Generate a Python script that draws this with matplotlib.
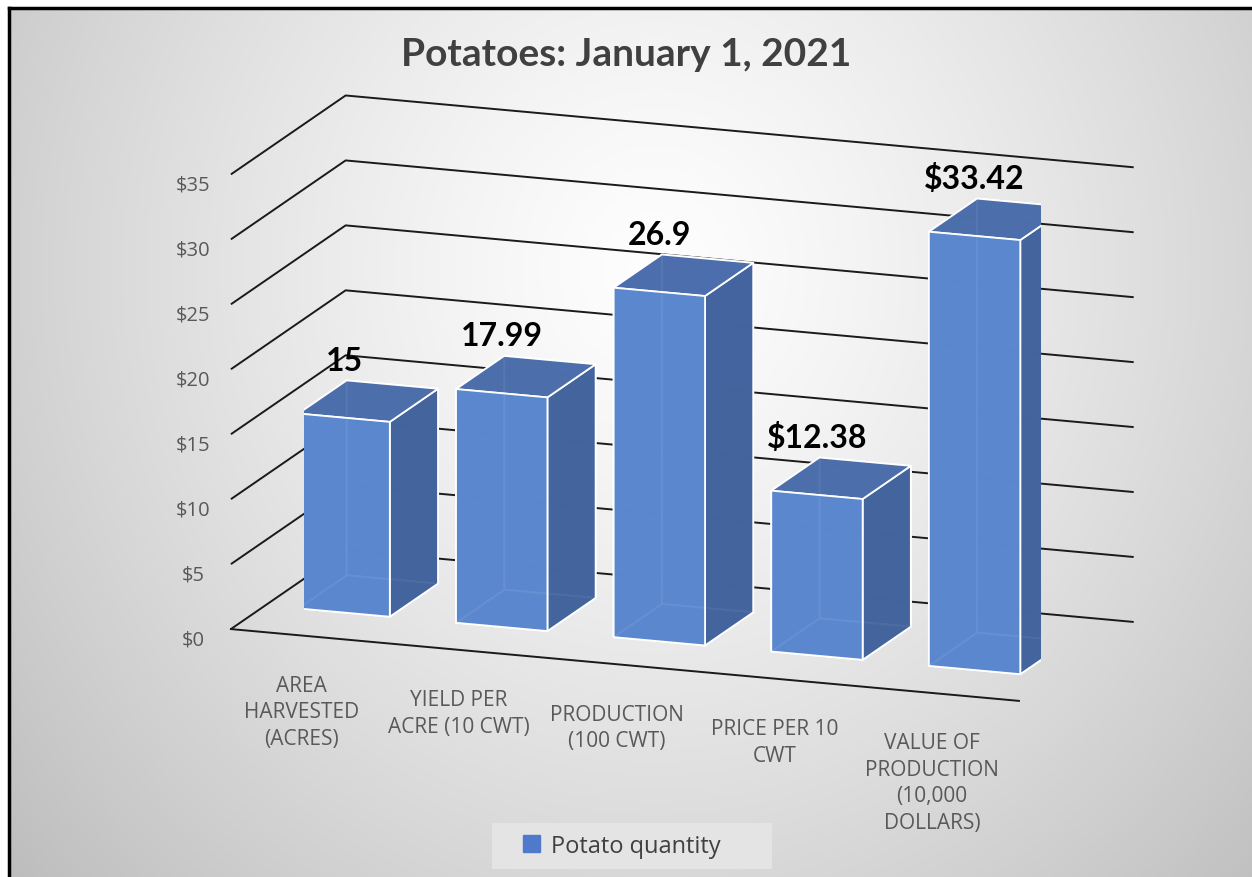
import numpy as np
import matplotlib
matplotlib.use("Agg")
import matplotlib.pyplot as plt
from matplotlib.patches import Rectangle, Patch
from mpl_toolkits.mplot3d import Axes3D  # noqa

# ---------------- data ----------------
title = "Potatoes: January 1, 2021"
categories = ["AREA\nHARVESTED\n(ACRES)", "YIELD PER\nACRE (10 CWT)", "PRODUCTION\n(100 CWT)",
              "PRICE PER 10\nCWT", "VALUE OF\nPRODUCTION\n(10,000\nDOLLARS)"]
values = [15, 17.99, 26.9, 12.38, 33.42]
value_labels = ["15", "17.99", "26.9", "$12.38", "$33.42"]
z_ticks = [0, 5, 10, 15, 20, 25, 30, 35]
z_tick_labels = ["$0", "$5", "$10", "$15", "$20", "$25", "$30", "$35"]
legend_label = "Potato quantity"

W, H = 1252, 878
fig = plt.figure(figsize=(W / 100, H / 100), dpi=100)

# ---------------- background ----------------
bg = fig.add_axes([0, 0, 1, 1], zorder=-10)
bg.set_xlim(0, W)
bg.set_ylim(H, 0)
bg.axis("off")
yy, xx = np.mgrid[0:H, 0:W]
r = np.sqrt(((xx - 0.52 * W) / (0.62 * W)) ** 2 + ((yy - 0.30 * H) / (0.95 * H)) ** 2)
v = np.clip(0.995 - 0.22 * r ** 1.3, 0, 1)
img = np.dstack([v, v, v])
bg.imshow(img, extent=[9, W, H, 9], aspect="auto", zorder=0)
bg.add_patch(Rectangle((0, 0), W, 9, color="white", zorder=1))
bg.add_patch(Rectangle((0, 0), 9, H, color="white", zorder=1))
bg.plot([9, 9], [9, H], color="black", lw=2.5, zorder=2)
bg.plot([9, W], [9, 9], color="black", lw=2.5, zorder=2)

# ---------------- 3D chart ----------------
ax = fig.add_axes([0.087, 0.114, 0.90, 0.84], projection="3d")
ax.set_facecolor((0, 0, 0, 0))
ax.computed_zorder = False
ax.set_proj_type("ortho")
ax.view_init(elev=14.5, azim=-70)
ax.set_box_aspect((5.0, 2.0, 2.8), zoom=1.34)

x = np.arange(len(values))
bw, bd = 0.58, 0.42
y0 = 0.30
n = len(values)
face_cols = []
for _ in range(n):
    # bottom, top, front, back, left, right
    face_cols += ["#5B87CF", "#4B6CA9", "#5B87CF", "#5B87CF", "#5B87CF", "#42619B"]
ax.bar3d(x - bw / 2, np.full(n, y0), np.zeros(n), bw, bd, values,
         color=face_cols, shade=False, edgecolor="white", linewidth=1.3, alpha=0.93,
         zorder=2)

for xi, val, lab in zip(x, values, value_labels):
    ax.text(xi, y0, val + 3.3, lab, ha="center", va="bottom", zorder=10,
            fontsize=23, fontweight="bold", family="Lato", color="black")

ax.set_xlim(-0.5, n - 0.5)
ax.set_ylim(0, 1)
ax.set_zlim(0, 35)

for axis in (ax.xaxis, ax.yaxis, ax.zaxis):
    axis.pane.set_visible(False)
    axis._axinfo["tick"]["inward_factor"] = 0
    axis._axinfo["tick"]["outward_factor"] = 0
ax.xaxis._axinfo["grid"]["linewidth"] = 0
ax.yaxis._axinfo["grid"]["linewidth"] = 0
ax.xaxis._axinfo["grid"]["color"] = (0, 0, 0, 0)
ax.yaxis._axinfo["grid"]["color"] = (0, 0, 0, 0)
ax.zaxis._axinfo["grid"]["color"] = "#1a1a1a"
ax.zaxis._axinfo["grid"]["linewidth"] = 1.4

ax.xaxis.line.set_color("#1a1a1a")
ax.xaxis.line.set_linewidth(1.4)
ax.yaxis.line.set_color((0, 0, 0, 0))
ax.zaxis.line.set_color((0, 0, 0, 0))
ax.zaxis.set_ticks_position("lower")

ax.set_xticks(x)
ax.set_xticklabels(categories, fontsize=15, family="Open Sans", color="#595959", linespacing=1.35)
ax.tick_params(axis="x", pad=12)
ax.set_yticks([])
ax.set_zticks(z_ticks)
ax.set_zticklabels(z_tick_labels, fontsize=14.5, family="Open Sans", color="#595959")

# ---------------- title & legend ----------------
fig.text(0.5, 1 - 55 / H, title, ha="center", va="center", fontsize=28,
         fontweight="bold", family="Lato", color="#404040")
bg.add_patch(Rectangle((492, 824), 280, 46, facecolor="#e4e4e4", edgecolor="none", zorder=3))
leg = fig.legend(handles=[Patch(facecolor="#4F7ACB", edgecolor="#4F7ACB")], labels=[legend_label],
                 loc="center", bbox_to_anchor=(622 / W, 1 - 847 / H), frameon=False,
                 handlelength=0.7, handleheight=0.7, handletextpad=0.5,
                 prop={"family": "Open Sans", "size": 17})
for t in leg.get_texts():
    t.set_color("#404040")

fig.savefig("out.png", dpi=100)
